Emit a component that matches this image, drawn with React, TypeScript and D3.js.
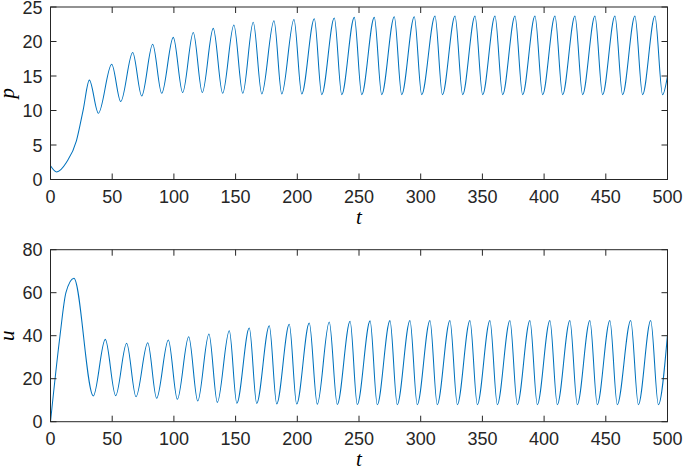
import React from 'react';
import * as d3 from 'd3';

// p(t): extrema and shape points
const pTimes = [
  0, 5, 13, 21, 26.5, 31.5,
  38.8, 49.6, 56.9, 66.6, 73.9, 82.8, 90.1, 99.5, 107.1, 115.7,
  123, 131.9, 139.5, 148.6, 155.8, 164.3, 171.2, 181.1, 187.4, 197.3,
  203.6, 213.8, 219.8, 230, 236, 246.2, 252.2, 262.4, 268.4, 278.6,
  284.6, 294.8, 300.8, 311.6, 317.6, 327.8, 334, 344, 350.2, 360.2,
  366.4, 376.4, 382.6, 392.6, 398.8, 408.8, 415, 425, 431.2, 441.2,
  447.4, 457.4, 463.6, 473.6, 479.8, 489.8, 496, 500,
];
const pValues = [
  2.0, 1.1, 2.5, 5.6, 10.1, 14.4,
  9.6, 16.7, 11.3, 18.4, 12.1, 19.6, 12.5, 20.6, 12.6, 21.3,
  12.6, 21.9, 12.5, 22.4, 12.5, 22.8, 12.4, 23.0, 12.4, 23.2,
  12.4, 23.3, 12.3, 23.4, 12.3, 23.5, 12.3, 23.5, 12.3, 23.6,
  12.3, 23.6, 12.3, 23.7, 12.3, 23.7, 12.3, 23.7, 12.3, 23.7,
  12.3, 23.7, 12.3, 23.7, 12.3, 23.7, 12.3, 23.7, 12.3, 23.7,
  12.3, 23.7, 12.3, 23.7, 12.3, 23.7, 12.3, 15.0,
];

// u(t): extrema and shape points
const uTimes = [
  0, 7.7, 12.5, 19,
  34.7, 44.4, 52.8, 61.7, 69.3, 78.8, 86, 95.5, 102.8, 112,
  119.3, 128.4, 135.2, 144.9, 151, 161.1, 167.1, 177.3, 183.3, 193.5,
  199.5, 209.7, 216.2, 225.9, 232.4, 242.8, 248.6, 259, 264.8, 275.1,
  281, 291.3, 297.2, 307.5, 313.4, 323.7, 329.7, 339.9, 345.9, 356.1,
  362.1, 372.3, 378.3, 388.5, 394.5, 404.7, 410.7, 420.9, 426.9, 437.1,
  443.1, 453.3, 459.3, 470.2, 476.4, 486.4, 492.6, 500,
];
const uValues = [
  0, 40, 60, 66.7,
  12.0, 38.3, 12.1, 36.5, 11.6, 36.7, 10.9, 38.0, 10.4, 39.5,
  9.6, 40.8, 9.0, 42.3, 8.6, 43.6, 8.5, 44.6, 8.3, 45.3,
  8.2, 45.9, 8.1, 46.4, 8.0, 46.7, 8.0, 46.9, 7.9, 47.0,
  7.9, 47.1, 7.9, 47.1, 7.9, 47.1, 7.9, 47.1, 7.9, 47.1,
  7.9, 47.1, 7.9, 47.1, 7.9, 47.1, 7.9, 47.1, 7.9, 47.1,
  7.9, 47.1, 7.9, 47.1, 7.9, 47.1, 7.9, 40.5,
];

const tTicks = [0, 50, 100, 150, 200, 250, 300, 350, 400, 450, 500];
const pTicks = [0, 5, 10, 15, 20, 25];
const uTicks = [0, 20, 40, 60, 80];

const AXIS = '#262626';
const LINE = '#0072BD';
const LEFT = 50.5;
const RIGHT = 667.5;

type PanelProps = {
  id: string;
  top: number;
  bottom: number;
  yMax: number;
  yTicks: number[];
  times: number[];
  values: number[];
  ylabel: string;
};

function Panel({ id, top, bottom, yMax, yTicks, times, values, ylabel }: PanelProps) {
  const x = d3.scaleLinear().domain([0, 500]).range([LEFT, RIGHT]);
  const y = d3.scaleLinear().domain([0, yMax]).range([bottom, top]);
  const pts: [number, number][] = times.map((t, i) => [t, values[i]]);
  const line = d3
    .line<[number, number]>()
    .x((d) => x(d[0]))
    .y((d) => y(d[1]))
    .curve(d3.curveMonotoneX);
  const tl = 6;
  return (
    <g>
      <defs>
        <clipPath id={id}>
          <rect x={LEFT} y={top} width={RIGHT - LEFT} height={bottom - top} />
        </clipPath>
      </defs>
      <path d={line(pts) || ''} fill="none" stroke={LINE} strokeWidth={1.05} clipPath={`url(#${id})`} />
      <rect x={LEFT} y={top} width={RIGHT - LEFT} height={bottom - top} fill="none" stroke={AXIS} strokeWidth={1} />
      {tTicks.map((t) => (
        <g key={'x' + t}>
          <line x1={x(t)} x2={x(t)} y1={bottom} y2={bottom - tl} stroke={AXIS} />
          <line x1={x(t)} x2={x(t)} y1={top} y2={top + tl} stroke={AXIS} />
          <text
            x={x(t)}
            y={bottom + 23.3}
            textAnchor="middle"
            fontFamily="'Liberation Sans', Arial, sans-serif"
            fontSize={18}
            fill={AXIS}
          >
            {t}
          </text>
        </g>
      ))}
      {yTicks.map((v) => (
        <g key={'y' + v}>
          <line x1={LEFT} x2={LEFT + tl} y1={y(v)} y2={y(v)} stroke={AXIS} />
          <line x1={RIGHT} x2={RIGHT - tl} y1={y(v)} y2={y(v)} stroke={AXIS} />
          <text
            x={LEFT - 8}
            y={y(v) + 6.5}
            textAnchor="end"
            fontFamily="'Liberation Sans', Arial, sans-serif"
            fontSize={18}
            fill={AXIS}
          >
            {v}
          </text>
        </g>
      ))}
      <text
        x={(LEFT + RIGHT) / 2}
        y={bottom + 44}
        textAnchor="middle"
        fontFamily="'Liberation Serif', 'Times New Roman', serif"
        fontStyle="italic"
        fontSize={21}
        fill="#000"
      >
        t
      </text>
      <text
        transform={`translate(13.5, ${(top + bottom) / 2}) rotate(-90)`}
        textAnchor="middle"
        fontFamily="'Liberation Serif', 'Times New Roman', serif"
        fontStyle="italic"
        fontSize={21}
        fill="#000"
      >
        {ylabel}
      </text>
    </g>
  );
}

export default function App() {
  return (
    <svg
      width={685}
      height={470}
      style={{ position: 'absolute', left: 0, top: 0, background: '#fff' }}
    >
      <Panel id="clipP" top={7} bottom={179.5} yMax={25} yTicks={pTicks} times={pTimes} values={pValues} ylabel="p" />
      <Panel id="clipU" top={249.7} bottom={421.7} yMax={80} yTicks={uTicks} times={uTimes} values={uValues} ylabel="u" />
    </svg>
  );
}
